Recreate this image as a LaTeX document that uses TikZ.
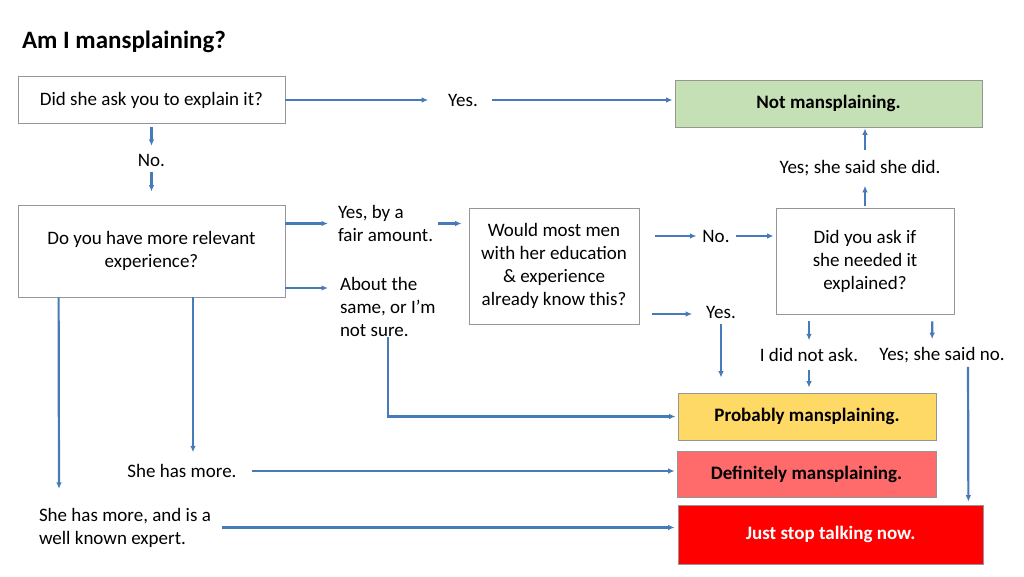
\documentclass[tikz,border=0pt]{standalone}
\usepackage{fontspec}
\setmainfont{Carlito}
\usetikzlibrary{arrows.meta,calc}
\definecolor{azul}{RGB}{70,122,184}
\definecolor{gris}{RGB}{150,150,150}
\definecolor{verde}{RGB}{197,224,180}
\definecolor{amarillo}{RGB}{255,217,102}
\definecolor{rosa}{RGB}{255,107,107}
\definecolor{rojo}{RGB}{255,0,0}
\begin{document}
\begin{tikzpicture}[x=1pt,y=-1pt]

	%DEFINITIONS
	\tikzstyle{every node}=[font=\fontsize{19}{23}\selectfont]
	\tikzstyle{question} = [draw=gris, align=center, line width=0.8pt, inner sep=0pt, fill=white]
	\tikzstyle{result} = [draw=gris, align=center, line width=0.8pt, inner sep=0pt, font=\fontsize{19}{23}\selectfont\bfseries]
	\tikzstyle{blank} = [align=center, inner sep=0pt, outer sep=0pt]
	\tikzstyle{flow} = [-{Latex[length=6.5pt,width=5.5pt]}, line width=2.2pt, draw=azul]

	\fill[white] (0,0) rectangle (1024,576);
	\useasboundingbox (0,0) rectangle (1024,576);

	%TITLE
	\draw(22,42) node[blank, anchor=west, font=\fontsize{25}{30}\selectfont\bfseries](t){Am I mansplaining?};

	%BOXES
	\draw(151.5,100) node[question, minimum width=267, minimum height=47](1){Did she ask you to explain it?};
	\draw(151.5,251) node[question, minimum width=267, minimum height=92](2){Do you have more relevant\\experience?};
	\draw(554,266) node[question, minimum width=170, minimum height=116](3){Would most men\\with her education\\\& experience\\already know this?};
	\draw(865,261) node[question, minimum width=178, minimum height=106](4){Did you ask if\\she needed it\\explained?};
	\draw(828.5,103.5) node[result, fill=verde, minimum width=307, minimum height=47](5){Not mansplaining.};
	\draw(807,416.5) node[result, fill=amarillo, minimum width=258, minimum height=47](6){Probably mansplaining.};
	\draw(806.5,474) node[result, fill=rosa, minimum width=259, minimum height=46](7){Definitely mansplaining.};
	\draw(830.5,534.5) node[result, fill=rojo, text=white, minimum width=305, minimum height=59](8){Just stop talking now.};

	%ANSWERS
	\draw(463,100) node[blank](a){Yes.};
	\draw(151.5,160) node[blank](b){No.};
	\draw(338,223.5) node[blank, anchor=west, align=left](c){Yes, by a\\fair amount.};
	\draw(340,307) node[blank, anchor=west, align=left](d){About the\\same, or I’m\\not sure.};
	\draw(716,236) node[blank](e){No.};
	\draw(721,312) node[blank](f){Yes.};
	\draw(860,168) node[blank](g){Yes; she said she did.};
	\draw(809,355) node[blank](h){I did not ask.};
	\draw(942,355) node[blank](i){Yes; she said no.};
	\draw(182,471) node[blank](j){She has more.};
	\draw(39,527.5) node[blank, anchor=west, align=left](k){She has more, and is a\\well known expert.};

	%ARROWS
	\draw[flow, shorten >=20pt] (1.east) -- (a.west);
	\draw[flow, shorten <=14pt, shorten >=2pt] (a.east) -- (a.east -| 5.west);
	\draw[flow, shorten <=3pt, shorten >=8pt] (1.south) -- (b.north);
	\draw[flow, shorten <=6pt, shorten >=13pt] (b.south) -- (2.north);

	\draw[flow, shorten >=10pt] (2.east |- c.west) -- (c.west);
	\draw[flow, shorten >=12pt] ($(2.east)+(0,37)$) -- ($(d.west)+(0,-19)$);
	\draw[flow, shorten <=5pt, shorten >=7pt] (c.east) -- (c.east -| 3.west);
	\draw[flow, shorten >=2pt] (d.south) |- (6.west);

	\draw[flow, shorten <=16pt, shorten >=6pt] (3.east |- e.west) -- (e.west);
	\draw[flow, shorten <=6pt, shorten >=2pt] (e.east) -- (e.east -| 4.west);
	\draw[flow, shorten <=13pt, shorten >=14pt] ($(3.east)+(0,48)$) -- ($(f.west)+(0,2)$);
	\draw[flow, shorten <=6pt, shorten >=15pt] (f.south) -- (f.south |- 6.north);

	\draw[flow, shorten <=2pt, shorten >=10pt] (4.north) -- (4.north |- g.south);
	\draw[flow, shorten <=10pt, shorten >=1pt] (4.north |- g.north) -- (4.north |- 5.south);
	\draw[flow, shorten <=7pt, shorten >=8pt] (h.north |- 4.south) -- (h.north);
	\draw[flow, shorten <=8pt, shorten >=5pt] (h.south) -- (h.south |- 6.north);
	\draw[flow, shorten <=7pt, shorten >=8pt] ($(4.south east)+(-22,0)$) -- ($(i.north)+(-10,0)$);
	\draw[flow, shorten <=4pt, shorten >=3pt] ($(i.south)+(26,0)$) -- ($(8.north east)+(-15,0)$);

	\draw[flow] ($(2.south)+(41.5,0)$) -- ($(j.north)+(11,-12)$);
	\draw[flow, shorten <=15pt, shorten >=2pt] (j.east) -- (j.east -| 7.west);
	\draw[flow] ($(2.south west)+(41,0)$) -- ($(k.north west)+(20,-19)$);
	\draw[flow, shorten <=11pt, shorten >=3pt] (k.east) -- (k.east -| 8.west);
\end{tikzpicture}
\end{document}
